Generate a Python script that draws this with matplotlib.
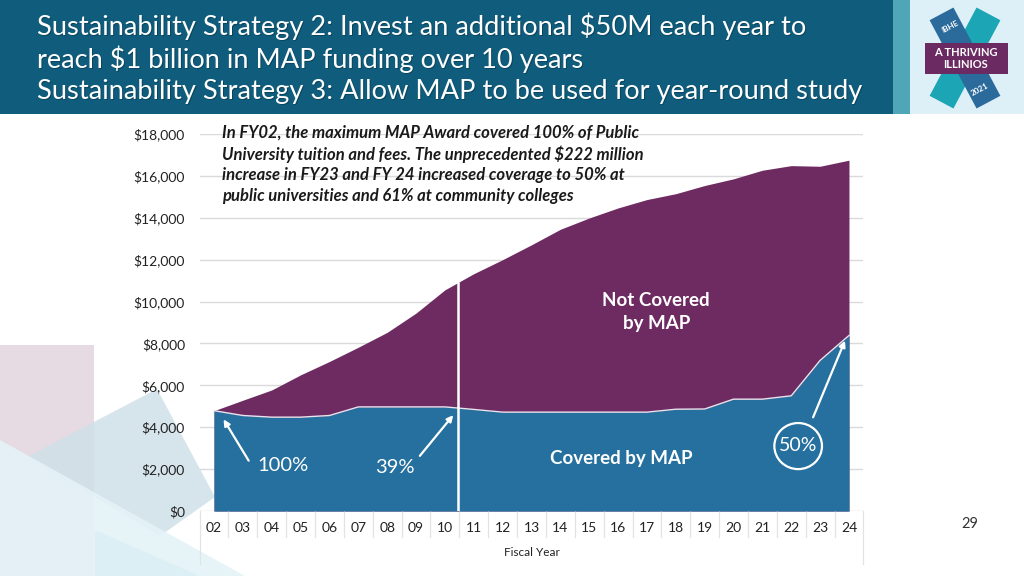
import matplotlib
matplotlib.use("Agg")
import matplotlib.pyplot as plt
import numpy as np
from matplotlib.patches import Rectangle, Polygon, Ellipse
import matplotlib.transforms as mtransforms

# ---------------- data ----------------
years = ['02', '03', '04', '05', '06', '07', '08', '09', '10', '11', '12', '13',
         '14', '15', '16', '17', '18', '19', '20', '21', '22', '23', '24']
covered = [4790, 4560, 4480, 4480, 4560, 4970, 4970, 4970, 4970, 4850, 4720, 4720,
           4720, 4720, 4720, 4720, 4860, 4870, 5340, 5340, 5500, 7190, 8380]
total_cost = [4790, 5290, 5780, 6500, 7140, 7820, 8530, 9450, 10560, 11330, 12000, 12710,
              13450, 13990, 14470, 14870, 15150, 15540, 15860, 16270, 16490, 16460, 16750]
y_ticks = [0, 2000, 4000, 6000, 8000, 10000, 12000, 14000, 16000, 18000]
y_tick_labels = ['$0', '$2,000', '$4,000', '$6,000', '$8,000', '$10,000',
                 '$12,000', '$14,000', '$16,000', '$18,000']

title_lines = ["Sustainability Strategy 2: Invest an additional $50M each year to",
               "reach $1 billion in MAP funding over 10 years",
               "Sustainability Strategy 3: Allow MAP to be used for year-round study"]
note_lines = ["In FY02, the maximum MAP Award covered 100% of Public",
              "University tuition and fees. The unprecedented $222 million",
              "increase in FY23 and FY 24 increased coverage to 50% at",
              "public universities and 61% at community colleges"]

BLUE = '#25709E'
PURPLE = '#6E2B61'
HEADER = '#0F5C7C'
W, H = 1024, 576

fig = plt.figure(figsize=(W / 100, H / 100), dpi=100)
fig.patch.set_facecolor('white')
renderer = fig.canvas.get_renderer()

# background / decoration axes in pixel coordinates
bg = fig.add_axes([0, 0, 1, 1], zorder=0)
bg.set_xlim(0, W)
bg.set_ylim(H, 0)
bg.axis('off')

# left decorative shapes
bg.add_patch(Rectangle((0, 345), 94, 240, facecolor='#E4D6E0', edgecolor='none', alpha=0.9))
bg.add_patch(Polygon([(27, 457), (157, 389), (215, 497), (160, 536)], closed=True,
                     facecolor='#CFE0E8', edgecolor='none', alpha=0.85))
bg.add_patch(Polygon([(0, 440), (245, 576), (0, 576)], closed=True,
                     facecolor='#E4F3F8', edgecolor='none', alpha=0.9))
bg.add_patch(Polygon([(95, 576), (95, 530), (200, 576)], closed=True,
                     facecolor='#D6EDF3', edgecolor='none', alpha=0.6))

# header
bg.add_patch(Rectangle((0, 0), 893, 114, facecolor=HEADER, edgecolor='none'))
bg.add_patch(Rectangle((893, 0), 17, 114, facecolor='#4EA6B6', edgecolor='none'))
bg.add_patch(Rectangle((910, 0), 114, 114, facecolor='#DDF0F8', edgecolor='none'))

# logo
cx, cy = 965, 58
def rot_rect(center, length, width, angle_deg, color):
    a = np.deg2rad(angle_deg)
    d = np.array([np.cos(a), np.sin(a)])
    n = np.array([-d[1], d[0]])
    c = np.array(center)
    pts = [c + d * length / 2 + n * width / 2, c + d * length / 2 - n * width / 2,
           c - d * length / 2 - n * width / 2, c - d * length / 2 + n * width / 2]
    return Polygon(pts, closed=True, facecolor=color, edgecolor='none')
bg.add_patch(rot_rect((cx, cy), 100, 27, -62, '#1CA5B5'))
bg.add_patch(rot_rect((cx, cy), 100, 27, 62, '#2B6B9C'))
bg.add_patch(Rectangle((925, 43), 83, 31, facecolor='#6B2A62', edgecolor='none'))
bg.text(cx + 1, 52.5, 'A THRIVING', color='white', fontsize=8, fontweight='bold',
        ha='center', va='center', family='Lato')
bg.text(cx + 1, 65, 'ILLINIOS', color='white', fontsize=8, fontweight='bold',
        ha='center', va='center', family='Lato')
bg.text(950, 27, 'IBHE', color='white', fontsize=5.8, fontweight='bold',
        ha='center', va='center', rotation=28, family='Lato')
bg.text(980, 89, '2021', color='white', fontsize=5.8, fontweight='bold',
        ha='center', va='center', rotation=28, family='Lato')

# slide number
bg.text(970, 524, '29', color='#333333', fontsize=10.5, ha='center', va='center', family='Lato')

# title: one font size, fitted to the width of the longest line
title_y = [26, 59, 91]
probe = bg.text(0, 0, title_lines[2], fontsize=18, family='Lato')
title_fs = 18 * 823 / probe.get_window_extent(renderer).width
probe.remove()
for line, y in zip(title_lines, title_y):
    bg.text(38.5, y + 1.5, line, color='#083447', fontsize=title_fs,
            ha='left', va='center', family='Lato', alpha=0.55)
    bg.text(37, y, line, color='white', fontsize=title_fs, ha='left', va='center',
            family='Lato')

# ---------------- chart ----------------
left, right = 199.6, 863.4
top, bottom = 134, 511
ax = fig.add_axes([left / W, 1 - bottom / H, (right - left) / W, (bottom - top) / H], zorder=2)
ax.patch.set_alpha(0)
x = np.arange(len(years))
ax.fill_between(x, 0, total_cost, color=PURPLE, linewidth=0, zorder=2)
ax.fill_between(x, 0, covered, color=BLUE, linewidth=0, zorder=3)
ax.plot(x, covered, color='#E8E4EE', linewidth=1.0, zorder=4)
ax.set_xlim(-0.5, len(years) - 0.5)
ax.set_ylim(0, 18000)
ax.set_yticks(y_ticks)
ax.set_yticklabels(y_tick_labels, fontsize=10, color='#222222', family='Lato')
ax.set_xticks(x)
ax.set_xticklabels(years, fontsize=10, color='#222222', family='Lato')
ax.tick_params(axis='both', length=0)
ax.tick_params(axis='y', pad=10.5)
ax.tick_params(axis='x', pad=8)
ax.grid(axis='y', color='#DADADA', linewidth=1.0, zorder=0)
ax.set_axisbelow(True)
for s in ax.spines.values():
    s.set_visible(False)

# table-like separators below axis
trans = mtransforms.blended_transform_factory(ax.transData, ax.transAxes)
for i in range(1, len(years)):
    ax.plot([i - 0.5, i - 0.5], [0, -0.07], color='#E3E3E3', linewidth=0.9,
            transform=trans, clip_on=False)
for xb in [-0.5, len(years) - 0.5]:
    ax.plot([xb, xb], [0, -0.14], color='#E3E3E3', linewidth=0.9,
            transform=trans, clip_on=False)
ax.text(0.5, -0.11, 'Fiscal Year', transform=ax.transAxes, ha='center', va='center',
        fontsize=8.5, color='#222222', family='Lato')

# divider line between FY10 and FY11
xd = 8.45
ax.plot([xd, xd], [0, np.interp(xd, x, total_cost)], color='white', linewidth=1.8, zorder=5)

# labels inside areas
ax.text(15.32, 9500, 'Not Covered\nby MAP', color='white', fontsize=13.5, fontweight='bold',
        ha='center', va='center', family='Lato', linespacing=1.4, zorder=6)
ax.text(14.1, 2530, 'Covered by MAP', color='white', fontsize=13.5, fontweight='bold',
        ha='center', va='center', family='Lato', zorder=6)

aprops = dict(arrowstyle='-|>', color='white', lw=1.6, mutation_scale=9)
ax.annotate('', xy=(0.28, 4490), xytext=(1.25, 2290), arrowprops=aprops, zorder=6)
ax.text(2.39, 2150, '100%', color='white', fontsize=14.5, ha='center', va='center',
        family='Lato', zorder=6)
ax.annotate('', xy=(8.35, 4680), xytext=(7.07, 2530), arrowprops=aprops, zorder=6)
ax.text(6.27, 2100, '39%', color='white', fontsize=14.5, ha='center', va='center',
        family='Lato', zorder=6)
ax.annotate('', xy=(21.9, 8260), xytext=(20.72, 4350), arrowprops=aprops, zorder=6)
ax.add_patch(Ellipse((20.24, 3100), 1.65, 2200, facecolor='none', edgecolor='white',
                     linewidth=1.6, zorder=6))
ax.text(20.24, 3150, '50%', color='white', fontsize=14, ha='center', va='center',
        family='Lato', zorder=6)

# explanatory note, fitted to the measured width of its second line
note_y = [133, 154, 175, 196]
probe = fig.text(0, 0, note_lines[1], fontsize=10.5, fontstyle='italic',
                 fontweight='bold', family='Lato')
note_fs = 10.5 * 423 / probe.get_window_extent(renderer).width
probe.remove()
for line, y in zip(note_lines, note_y):
    fig.text(222 / W, 1 - y / H, line, color='#1A1A1A', fontsize=note_fs,
             fontstyle='italic', fontweight='bold', ha='left', va='center',
             family='Lato', zorder=10)

fig.savefig('out.png', dpi=100)
